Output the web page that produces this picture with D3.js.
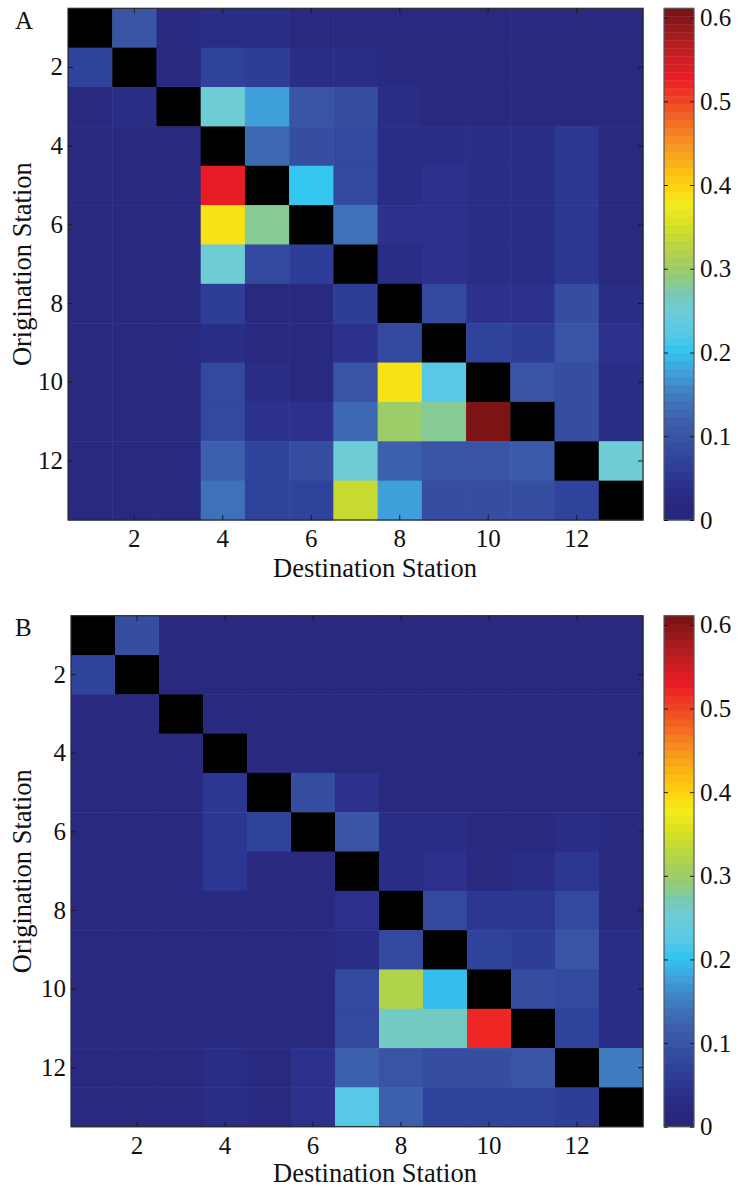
<!DOCTYPE html>
<html>
<head>
<meta charset="utf-8">
<script src="https://cdn.jsdelivr.net/npm/d3@7"></script>
<style>
  body { margin: 0; background: #fff; }
  svg { display: block; }
</style>
</head>
<body>
<div id="chart"></div>
<script>
const stations = d3.range(1, 14);
const stationTicks = [2, 4, 6, 8, 10, 12];
const colorTicks = [0, 0.1, 0.2, 0.3, 0.4, 0.5, 0.6];
const colorMax = 0.611;
const colorLevels = 64;
const FONT = '"Liberation Serif", "Times New Roman", Tinos, serif';

// colours of the printed (jet-like) colorbar, read at these values
const paletteValues = [0, 0.02, 0.035, 0.06, 0.10, 0.12, 0.15, 0.18, 0.20, 0.22, 0.25, 0.27, 0.29, 0.31, 0.35, 0.38, 0.40, 0.45, 0.50, 0.53, 0.57, 0.611];
const paletteColors = ['#26277a', '#28297f', '#2a2f8b', '#2e3e99', '#3a55a6', '#3d62ae', '#3f7fc2', '#3ea6df', '#2ec5f1', '#55c8e6', '#6dccd8', '#76c9b5', '#92cb7a', '#a6ce58', '#d3de24', '#f5eb1a', '#fdd30c', '#f8961d', '#f04a23', '#ed1c24', '#b81e22', '#7c1416'];

// rows = origination station, columns = destination station (null = diagonal)
const flowsA = [
  [null, 0.10, 0.025, 0.035, 0.03, 0.025, 0.025, 0.02, 0.02, 0.02, 0.02, 0.02, 0.02],
  [0.07, null, 0.025, 0.07, 0.06, 0.035, 0.035, 0.02, 0.02, 0.02, 0.02, 0.02, 0.02],
  [0.02, 0.03, null, 0.25, 0.18, 0.105, 0.09, 0.035, 0.02, 0.02, 0.02, 0.02, 0.02],
  [0.02, 0.02, 0.02, null, 0.13, 0.09, 0.085, 0.035, 0.035, 0.035, 0.035, 0.05, 0.025],
  [0.02, 0.02, 0.02, 0.53, null, 0.21, 0.085, 0.035, 0.045, 0.035, 0.035, 0.05, 0.025],
  [0.02, 0.02, 0.02, 0.39, 0.28, null, 0.14, 0.045, 0.045, 0.035, 0.035, 0.05, 0.025],
  [0.02, 0.02, 0.02, 0.25, 0.085, 0.06, null, 0.03, 0.04, 0.035, 0.035, 0.055, 0.02],
  [0.02, 0.02, 0.02, 0.06, 0.025, 0.025, 0.06, null, 0.085, 0.045, 0.045, 0.09, 0.035],
  [0.02, 0.02, 0.02, 0.035, 0.025, 0.025, 0.045, 0.08, null, 0.075, 0.06, 0.10, 0.045],
  [0.02, 0.02, 0.02, 0.085, 0.035, 0.022, 0.10, 0.39, 0.22, null, 0.10, 0.09, 0.035],
  [0.02, 0.02, 0.02, 0.085, 0.04, 0.04, 0.125, 0.30, 0.28, 0.61, null, 0.09, 0.035],
  [0.02, 0.02, 0.02, 0.12, 0.075, 0.09, 0.25, 0.115, 0.10, 0.105, 0.11, null, 0.25],
  [0.02, 0.02, 0.02, 0.14, 0.075, 0.07, 0.34, 0.18, 0.09, 0.09, 0.09, 0.07, null]
];

const flowsB = [
  [null, 0.095, 0.02, 0.02, 0.02, 0.02, 0.02, 0.02, 0.02, 0.02, 0.02, 0.02, 0.02],
  [0.07, null, 0.02, 0.02, 0.02, 0.02, 0.02, 0.02, 0.02, 0.02, 0.02, 0.02, 0.02],
  [0.02, 0.02, null, 0.02, 0.02, 0.02, 0.02, 0.02, 0.02, 0.02, 0.02, 0.02, 0.02],
  [0.02, 0.02, 0.02, null, 0.02, 0.02, 0.02, 0.02, 0.02, 0.02, 0.02, 0.02, 0.02],
  [0.02, 0.02, 0.02, 0.055, null, 0.095, 0.04, 0.02, 0.02, 0.02, 0.02, 0.02, 0.02],
  [0.02, 0.02, 0.02, 0.055, 0.075, null, 0.105, 0.03, 0.03, 0.02, 0.02, 0.035, 0.02],
  [0.02, 0.02, 0.02, 0.05, 0.025, 0.025, null, 0.035, 0.04, 0.025, 0.035, 0.05, 0.025],
  [0.02, 0.02, 0.02, 0.02, 0.02, 0.02, 0.045, null, 0.085, 0.05, 0.05, 0.08, 0.025],
  [0.02, 0.02, 0.02, 0.02, 0.02, 0.02, 0.035, 0.08, null, 0.075, 0.065, 0.10, 0.035],
  [0.02, 0.02, 0.02, 0.02, 0.02, 0.02, 0.085, 0.32, 0.20, null, 0.09, 0.08, 0.035],
  [0.02, 0.02, 0.02, 0.02, 0.02, 0.02, 0.085, 0.265, 0.26, 0.52, null, 0.075, 0.035],
  [0.02, 0.02, 0.02, 0.035, 0.02, 0.045, 0.12, 0.10, 0.095, 0.095, 0.10, null, 0.15],
  [0.02, 0.02, 0.02, 0.035, 0.025, 0.04, 0.22, 0.115, 0.075, 0.075, 0.075, 0.06, null]
];

const palette = d3.scaleLinear().domain(paletteValues).range(paletteColors).interpolate(d3.interpolateRgb);
// 64 discrete levels like a matlab colormap
const levelColor = (i) => palette(i / (colorLevels - 1) * colorMax);
const cellColor = (v) => {
  if (v === null) return '#000';
  const i = Math.max(0, Math.min(colorLevels - 1, Math.floor(v / colorMax * colorLevels)));
  return levelColor(i);
};

const svg = d3.select('#chart').append('svg').attr('width', 738).attr('height', 1187);

class Heatmap {
  constructor(_config) {
    this.config = {
      letter: _config.letter,
      data: _config.data,
      left: _config.left,
      right: _config.right,
      top: _config.top,
      bottom: _config.bottom,
      barLeft: _config.barLeft || 664,
      barWidth: _config.barWidth || 30,
      labelX: _config.labelX || 375,
      labelGap: _config.labelGap || 57,
      fontSize: 25,
      labelSize: 26.5,
    };
    this.initVis();
  }

  styleAxis(g) {
    g.attr('font-size', null).attr('font-family', null);
    g.select('.domain').remove();
    g.selectAll('.tick line').attr('stroke', '#1a1a1a');
    g.selectAll('.tick text')
      .attr('font-family', FONT)
      .attr('font-size', this.config.fontSize)
      .attr('fill', '#111');
  }

  addText(g, size) {
    return g.append('text').attr('font-family', FONT).attr('font-size', size).attr('fill', '#111');
  }

  initVis() {
    const c = this.config;
    const g = svg.append('g');

    this.x = d3.scaleBand().domain(stations).range([c.left, c.right]);
    this.y = d3.scaleBand().domain(stations).range([c.top, c.bottom]);

    const cells = c.data.flatMap((row, i) => row.map((v, j) => ({ o: stations[i], d: stations[j], v })));

    g.selectAll('rect.cell')
      .data(cells)
      .join('rect')
      .attr('class', 'cell')
      .attr('x', d => this.x(d.d))
      .attr('y', d => this.y(d.o))
      .attr('width', this.x.bandwidth() + 0.5)
      .attr('height', this.y.bandwidth() + 0.5)
      .attr('fill', d => cellColor(d.v));

    g.append('rect')
      .attr('x', c.left).attr('y', c.top)
      .attr('width', c.right - c.left).attr('height', c.bottom - c.top)
      .attr('fill', 'none').attr('stroke', '#2a2a2a').attr('stroke-width', 1.2);

    g.append('g').attr('transform', `translate(0,${c.bottom})`)
      .call(d3.axisBottom(this.x).tickValues(stationTicks).tickSizeInner(-5).tickSizeOuter(0).tickPadding(9.5))
      .call(a => this.styleAxis(a));
    g.append('g').attr('transform', `translate(0,${c.top})`)
      .call(d3.axisTop(this.x).tickValues(stationTicks).tickSizeInner(-5).tickSizeOuter(0).tickFormat(''))
      .call(a => this.styleAxis(a));
    g.append('g').attr('transform', `translate(${c.left},0)`)
      .call(d3.axisLeft(this.y).tickValues(stationTicks).tickSizeInner(-5).tickSizeOuter(0).tickPadding(5))
      .call(a => this.styleAxis(a));
    g.append('g').attr('transform', `translate(${c.right},0)`)
      .call(d3.axisRight(this.y).tickValues(stationTicks).tickSizeInner(-5).tickSizeOuter(0).tickFormat(''))
      .call(a => this.styleAxis(a));

    this.addText(g, c.labelSize)
      .attr('x', c.labelX).attr('y', c.bottom + c.labelGap)
      .attr('text-anchor', 'middle')
      .text('Destination Station');

    this.addText(g, c.labelSize)
      .attr('transform', `translate(31,${(c.top + c.bottom) / 2}) rotate(-90)`)
      .attr('text-anchor', 'middle')
      .text('Origination Station');

    this.addText(g, c.fontSize)
      .attr('x', 15).attr('y', c.top + 20.5)
      .text(c.letter);

    this.drawColorbar(g);
  }

  drawColorbar(g) {
    const c = this.config;
    const cy = d3.scaleLinear().domain([0, colorMax]).range([c.bottom, c.top]);
    const levels = d3.range(colorLevels);
    const step = colorMax / colorLevels;

    g.selectAll('rect.level')
      .data(levels)
      .join('rect')
      .attr('class', 'level')
      .attr('x', c.barLeft)
      .attr('width', c.barWidth)
      .attr('y', i => cy((i + 1) * step))
      .attr('height', i => cy(i * step) - cy((i + 1) * step) + 0.4)
      .attr('fill', i => levelColor(i));

    g.append('rect')
      .attr('x', c.barLeft).attr('y', c.top)
      .attr('width', c.barWidth).attr('height', c.bottom - c.top)
      .attr('fill', 'none').attr('stroke', '#555').attr('stroke-width', 1.2);

    const fmt = (d) => (d === 0 ? '0' : d3.format('.1f')(d));
    g.append('g').attr('transform', `translate(${c.barLeft + c.barWidth},0)`)
      .call(d3.axisRight(cy).tickValues(colorTicks).tickFormat(fmt).tickSizeInner(-4).tickSizeOuter(0).tickPadding(6))
      .call(a => this.styleAxis(a));
    g.append('g').attr('transform', `translate(${c.barLeft},0)`)
      .call(d3.axisLeft(cy).tickValues(colorTicks).tickFormat('').tickSizeInner(-4).tickSizeOuter(0))
      .call(a => this.styleAxis(a));
  }
}

new Heatmap({ letter: 'A', data: flowsA, left: 68, right: 643, top: 8.3, bottom: 520 });
new Heatmap({ letter: 'B', data: flowsB, left: 71, right: 643, top: 615.7, bottom: 1126.7, labelGap: 55 });
</script>
</body>
</html>
